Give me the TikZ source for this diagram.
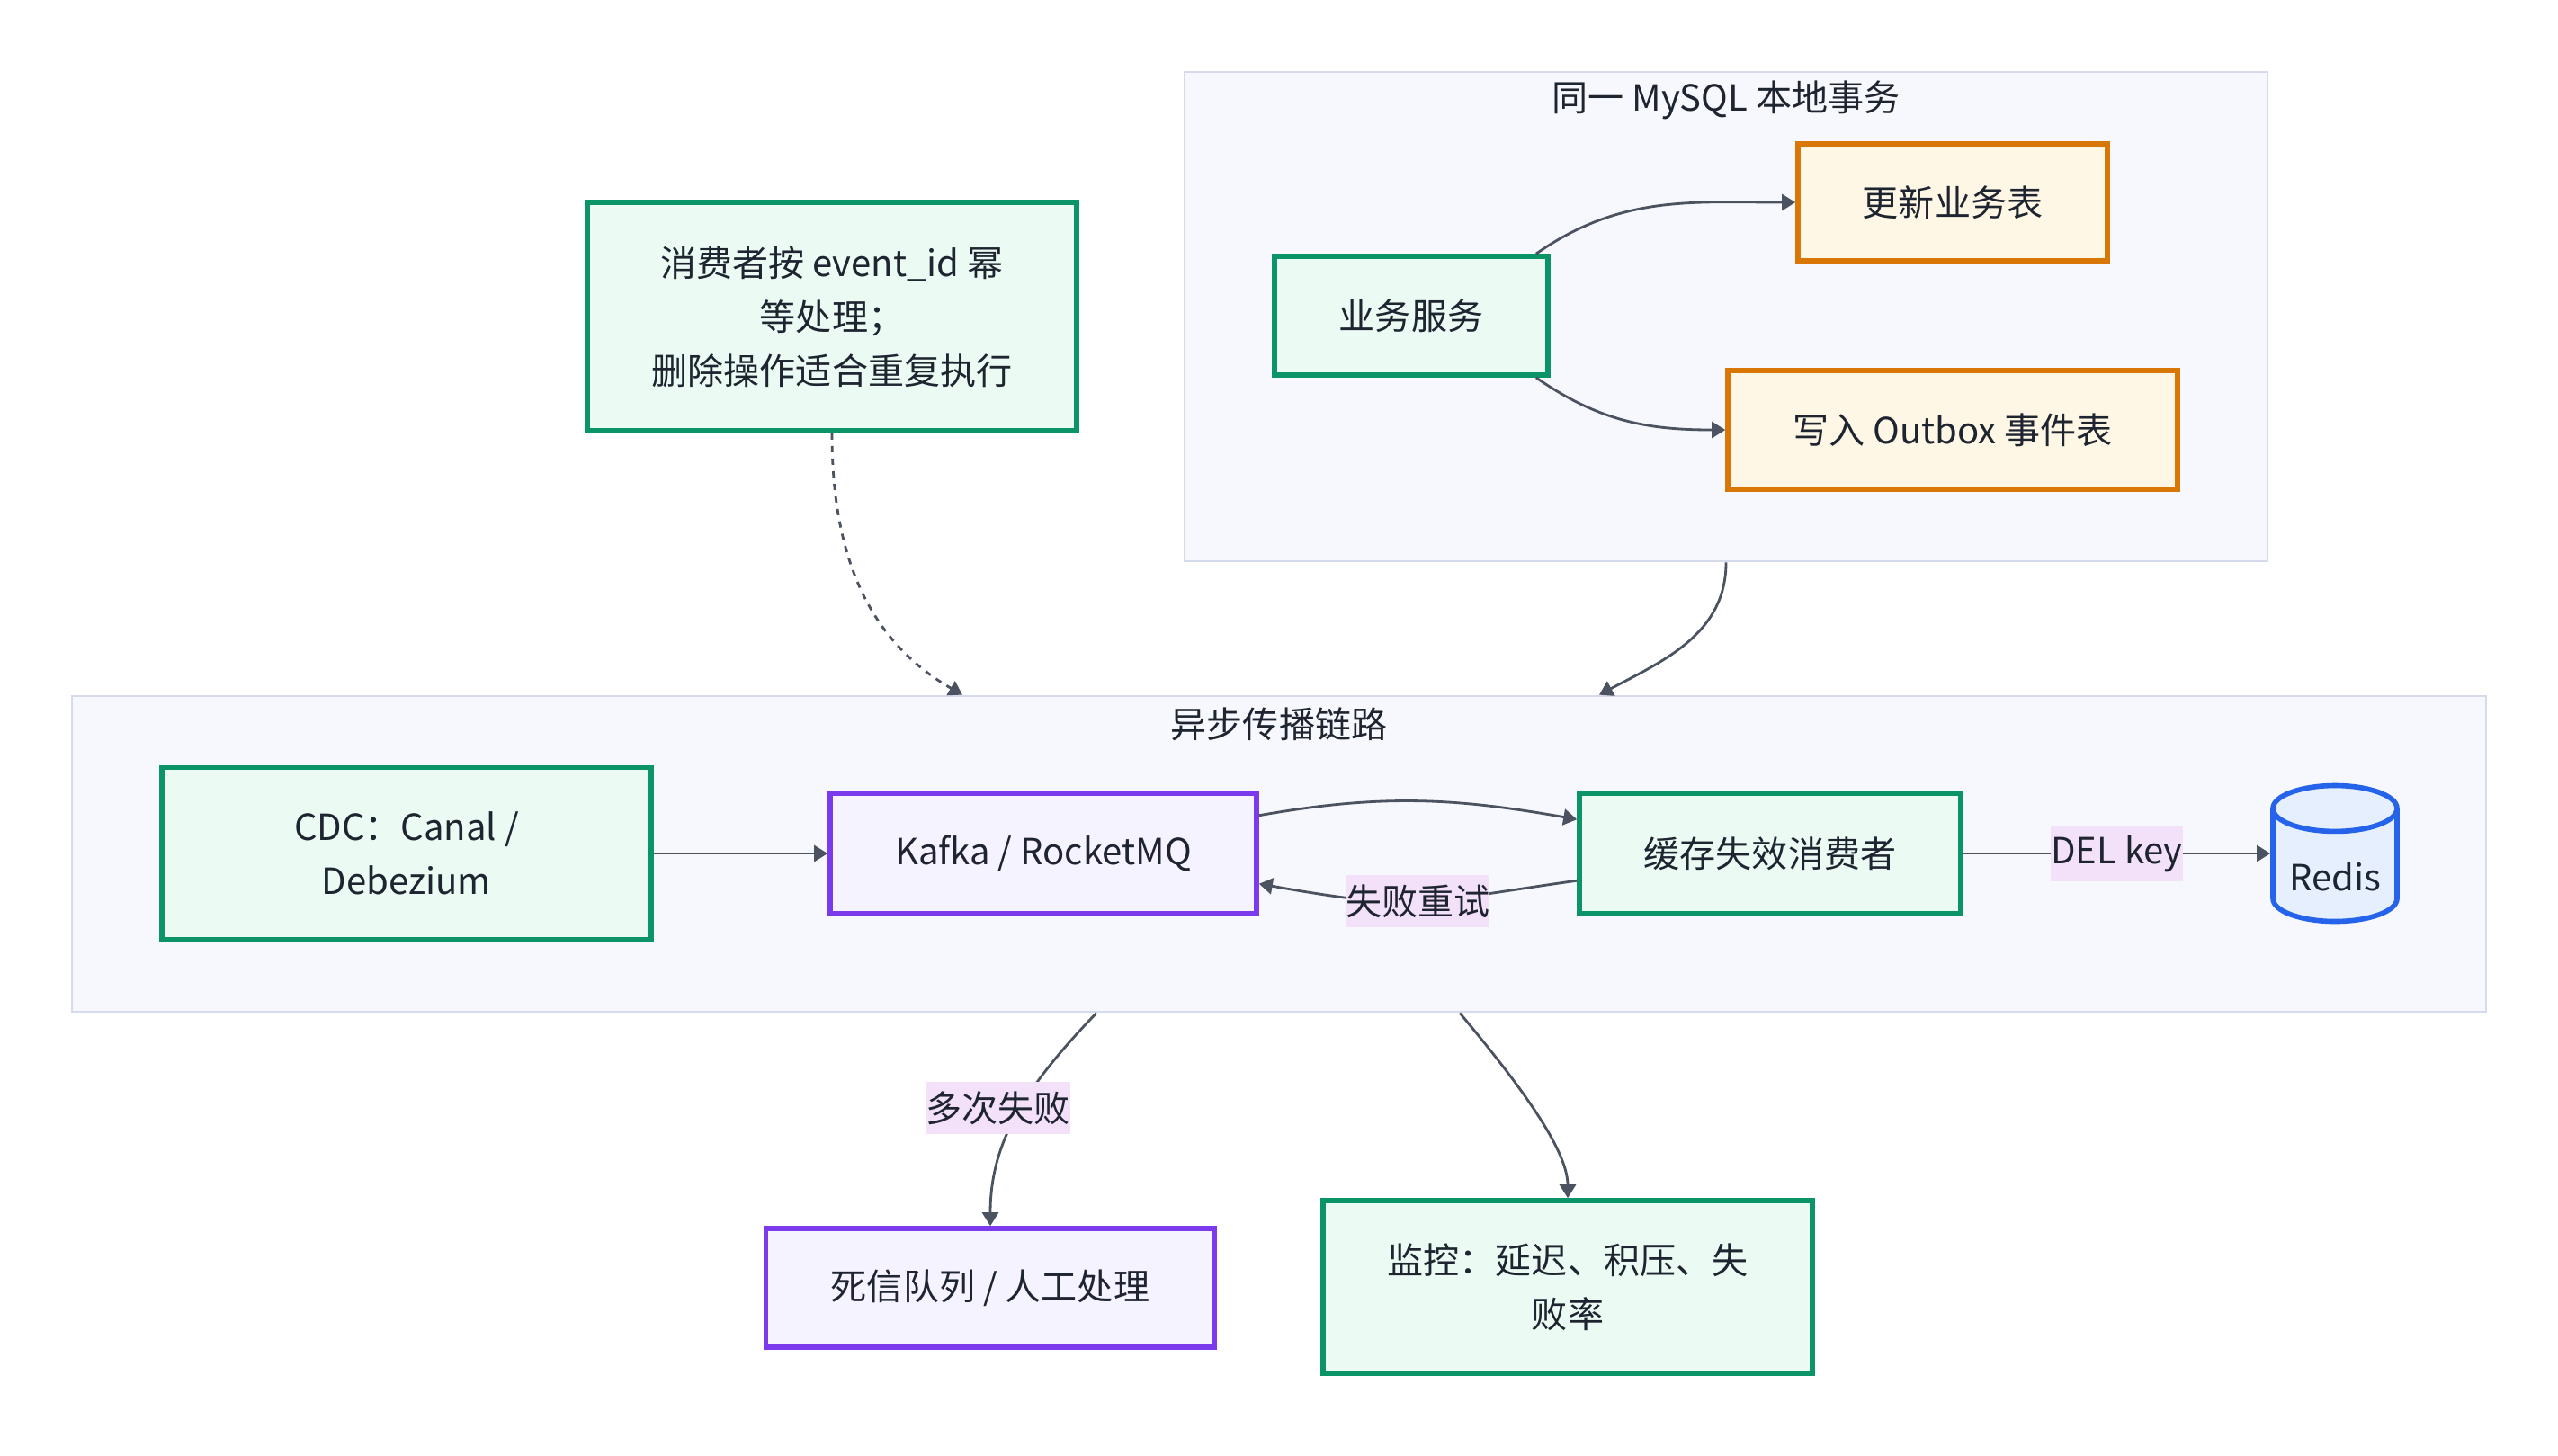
\documentclass[tikz,border=0pt]{standalone}
\usepackage{fontspec}
\setmainfont{Noto Sans CJK SC}
\usepackage{tikz}
\usetikzlibrary{arrows.meta,shapes.geometric}

\definecolor{grnline}{HTML}{0B9467}
\definecolor{grnfill}{HTML}{EBFBF3}
\definecolor{orgline}{HTML}{D97706}
\definecolor{orgfill}{HTML}{FFF7E6}
\definecolor{purline}{HTML}{7C3AED}
\definecolor{purfill}{HTML}{F5F3FF}
\definecolor{bluline}{HTML}{2563EB}
\definecolor{blufill}{HTML}{E6EFFD}
\definecolor{grpline}{HTML}{D5DBEC}
\definecolor{grpfill}{HTML}{F7F8FD}
\definecolor{lblfill}{HTML}{F3E0F9}
\definecolor{edgecol}{HTML}{4B5260}
\definecolor{txtcol}{HTML}{1E2430}

\tikzset{
  txt/.style={text=txtcol,font=\fontsize{11.4}{17}\selectfont},
  box/.style={txt,draw,line width=1.6pt,align=center,inner sep=0pt},
  svcbox/.style={box,draw=grnline,fill=grnfill},
  tblbox/.style={box,draw=orgline,fill=orgfill},
  mqbox/.style={box,draw=purline,fill=purfill},
  group/.style={draw=grpline,fill=grpfill,line width=0.8pt,inner sep=0pt},
  flow/.style={draw=edgecol,line width=0.8pt,-{Triangle[length=1.5mm,width=1.8mm]}},
  elabel/.style={txt,fill=lblfill,inner xsep=0pt,inner ysep=3pt}
}

\begin{document}
\begin{tikzpicture}[x=1cm,y=1cm]
  \useasboundingbox (0,0) rectangle (28.44,-16.18);

  % --- groups ---
  \node[group,minimum width=12.04cm,minimum height=5.44cm] (txgrp) at (19.19,-3.52) {};
  \node[txt] (txtitle) at (19.19,-1.11) {同一 MySQL 本地事务};
  \node[group,minimum width=26.84cm,minimum height=3.51cm] (async) at (14.22,-9.495) {};
  \node[txt] (astitle) at (14.22,-8.05) {异步传播链路};

  % --- local transaction ---
  \node[svcbox,minimum width=3.04cm,minimum height=1.32cm] (svc) at (15.69,-3.51) {业务服务};
  \node[tblbox,minimum width=3.44cm,minimum height=1.30cm] (upd) at (21.71,-2.25) {更新业务表};
  \node[tblbox,minimum width=5.00cm,minimum height=1.32cm] (outbox) at (21.71,-4.78) {写入 Outbox 事件表};

  % --- note ---
  \node[svcbox,minimum width=5.44cm,minimum height=2.54cm] (note) at (9.25,-3.52)
    {消费者按 event\_id 幂\\等处理；\\删除操作适合重复执行};

  % --- async chain ---
  \node[svcbox,minimum width=5.44cm,minimum height=1.91cm] (cdc) at (4.52,-9.49) {CDC：Canal /\\Debezium};
  \node[mqbox,minimum width=4.74cm,minimum height=1.33cm] (mq) at (11.60,-9.49) {Kafka / RocketMQ};
  \node[svcbox,minimum width=4.24cm,minimum height=1.33cm] (cache) at (19.68,-9.49) {缓存失效消费者};
  \node[txt,cylinder,shape border rotate=90,aspect=0.5,draw=bluline,fill=blufill,line width=1.6pt,
        minimum width=1.38cm,minimum height=1.51cm,inner sep=0pt,text height=15.5pt,
        anchor=shape center] (redis) at (25.96,-9.49) {Redis};

  % --- outside ---
  \node[mqbox,minimum width=4.99cm,minimum height=1.32cm] (dlq) at (11.01,-14.32) {死信队列 / 人工处理};
  \node[svcbox,minimum width=5.44cm,minimum height=1.92cm] (mon) at (17.43,-14.31) {监控：延迟、积压、失\\败率};

  % --- connectors ---
  \draw[flow] ([xshift=-0.16cm]svc.north east) to[out=35,in=180] (upd.west);
  \draw[flow] ([xshift=-0.16cm]svc.south east) to[out=-35,in=180] (outbox.west);
  \draw[flow] (txgrp.south) to[out=-90,in=28] ([xshift=3.56cm]async.north);
  \draw[flow,dash pattern=on 2pt off 2pt] (note.south) to[out=-90,in=150] ([xshift=-3.52cm]async.north);
  \draw[flow] (cdc.east) -- (mq.west);
  \draw[flow] (mq.10) to[out=10,in=170] (cache.170);
  \draw[flow] (cache.188) to[out=188,in=-10,looseness=1.3] node[elabel] {失败重试} (mq.-8);
  \draw[flow] (cache.east) -- node[elabel] {DEL key} (cache.east -| redis.west);
  \draw[flow] ([xshift=-2.03cm]async.south) .. controls +(-134:1.2) and +(90:0.9) ..
    node[elabel,pos=0.45,xshift=-0.25cm] {多次失败} (dlq.north);
  \draw[flow] ([xshift=2.01cm]async.south) .. controls +(-50:1.2) and +(90:0.5) .. (mon.north);
\end{tikzpicture}
\end{document}
